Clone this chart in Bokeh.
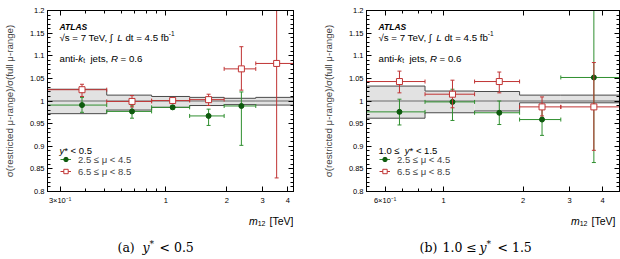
import math
from bokeh.plotting import figure
from bokeh.layouts import row, column
from bokeh.models import (Range1d, FixedTicker, CustomJSTickFormatter, LogAxis, LinearAxis,
                          Label, Legend, LegendItem)
from bokeh.embed import file_html
from bokeh.resources import INLINE

# ---------------- panel (a): y* < 0.5 ----------------
a_edges = [0.26, 0.51, 0.85, 1.31, 1.94, 2.78, 4.27]
a_centers = [0.385, 0.68, 1.08, 1.625, 2.36, 3.525]
a_band_hi = [1.026, 1.013, 1.010, 1.008, 1.006, 1.008]
a_band_lo = [0.972, 0.980, 0.986, 0.990, 0.992, 0.991]
a_low_mu = [0.991, 0.977, 0.986, 0.967, 0.989]
a_low_mu_dn = [0.975, 0.962, 0.982, 0.946, 0.902]
a_low_mu_up = [1.008, 0.991, 0.990, 0.982, 1.020]
a_high_mu = [1.025, 0.999, 1.001, 1.003, 1.071, 1.083]
a_high_mu_dn = [1.010, 0.987, 0.996, 0.990, 1.024, 0.830]
a_high_mu_up = [1.037, 1.012, 1.005, 1.015, 1.120, 1.336]
a_xticks = [0.3, 1, 2, 3, 4]
a_xtick_labels = ["3×10⁻¹", "1", "2", "3", "4"]
a_xminor = [0.4, 0.5, 0.6, 0.7, 0.8, 0.9]

# ---------------- panel (b): 1.0 <= y* < 1.5 ----------------
b_edges = [0.51, 0.85, 1.31, 1.94, 2.78, 4.64]
b_centers = [0.68, 1.08, 1.625, 2.36, 3.71]
b_band_hi = [1.033, 1.022, 1.021, 1.013, 1.013]
b_band_lo = [0.962, 0.974, 0.978, 0.996, 0.996]
b_low_mu = [0.976, 0.998, 0.974, 0.959, 1.052]
b_low_mu_dn = [0.947, 0.957, 0.948, 0.924, 0.864]
b_low_mu_up = [1.004, 1.026, 1.000, 0.988, 1.240]
b_high_mu = [1.043, 1.015, 1.043, 0.987, 0.987]
b_high_mu_dn = [1.018, 0.985, 1.018, 0.967, 0.891]
b_high_mu_up = [1.066, 1.046, 1.064, 1.009, 1.085]
b_xticks = [0.6, 1, 2, 3, 4]
b_xtick_labels = ["6×10⁻¹", "1", "2", "3", "4"]
b_xminor = [0.7, 0.8, 0.9]

y_ticks = [0.8, 0.85, 0.9, 0.95, 1.0, 1.05, 1.1, 1.15, 1.2]
y_tick_labels = ["0.8", "0.85", "0.9", "0.95", "1", "1.05", "1.1", "1.15", "1.2"]
y_minor = [round(0.8 + 0.01 * i, 2) for i in range(41)]
reference_ratio = 1.0

low_mu_label = "2.5 ≤ μ < 4.5"
high_mu_label = "6.5 ≤ μ < 8.5"
y_label = "σ(restricted μ-range)/σ(full μ-range)"

SANS = "Liberation Sans"
SERIF = "DejaVu Serif"
GREEN_LINE = "#2f8f2f"
GREEN_MARK = "#0e5a0e"
RED = "#c03434"
BAND_FILL = "#e2e2e2"
BAND_LINE = "#4a4a4a"

# approximate Helvetica advance widths (per em) used to chain text runs
HELV = {" ": .278, "(": .333, ")": .333, "*": .389, ",": .278, "-": .333, ".": .278,
        "/": .278, "<": .584, "=": .584, "A": .667, "L": .556, "R": .722, "S": .667,
        "T": .611, "V": .667, "[": .278, "]": .278, "a": .556, "b": .556, "d": .556,
        "e": .556, "f": .278, "i": .222, "j": .222, "k": .5, "m": .833, "n": .556,
        "s": .5, "t": .278, "y": .5, "√": .549, "∫": .274, "≤": .549, "μ": .576}
HELV_BOLD = {"A": .722, "T": .611, "L": .611, "S": .667}


def run_width(text, size, bold=False):
    table = HELV_BOLD if bold else HELV
    return sum(table.get(ch, HELV.get(ch, .556)) for ch in text) * size


def text_label(p, x, y, text, size, style, align, font=SANS):
    p.add_layout(Label(x=x, y=y, x_units="screen", y_units="screen", text=text,
                       text_font=font, text_font_size=f"{size}px", text_font_style=style,
                       text_color="black", text_baseline="alphabetic", text_align=align))


def add_runs(p, x, y, runs, align="left"):
    """Place a sequence of (text, size, style, dy) runs on one baseline."""
    if align == "right":
        # lay out from the right edge leftwards so the last run ends exactly at x
        for text, size, style, dy in reversed(runs):
            trail = len(text) - len(text.rstrip(" "))
            text_label(p, x - trail * HELV[" "] * size, y + dy, text.strip(" "),
                       size, style, "right")
            x -= run_width(text, size, "bold" in style)
        return
    for text, size, style, dy in runs:
        lead = len(text) - len(text.lstrip(" "))
        text_label(p, x + lead * HELV[" "] * size, y + dy, text.strip(" "),
                   size, style, "left")
        x += run_width(text, size, "bold" in style)


def tick_formatter(values, labels):
    return CustomJSTickFormatter(args=dict(vals=values, labs=labels), code="""
        for (let i = 0; i < vals.length; i++) {
            if (Math.abs(tick - vals[i]) < 1e-6) { return labs[i]; }
        }
        return "";
    """)


def style_axis(ax, ticker, formatter, label_size="7.5px", standoff=3):
    ax.ticker = ticker
    ax.formatter = formatter
    ax.major_tick_in = 5
    ax.major_tick_out = 0
    ax.minor_tick_in = 3
    ax.minor_tick_out = 0
    ax.axis_line_color = "black"
    ax.major_tick_line_color = "black"
    ax.minor_tick_line_color = "black"
    ax.major_label_text_font = SANS
    ax.major_label_text_font_size = label_size
    ax.major_label_text_color = "black"
    ax.major_label_standoff = standoff


def error_points(p, edges, centers, vals, dn, up, color, marker, size, fill):
    n = len(vals)
    xl, xr, xc = edges[:n], edges[1:n + 1], centers[:n]
    hbar = p.segment(x0=xl, y0=vals, x1=xr, y1=vals, line_color=color, line_width=1)
    p.segment(x0=xc, y0=dn, x1=xc, y1=up, line_color=color, line_width=1)
    p.scatter(x=xc + xc, y=dn + up, marker="dash", size=4, line_color=color, line_width=1)
    p.scatter(x=xl + xr, y=vals + vals, marker="dash", angle=math.pi / 2, size=4,
              line_color=color, line_width=1)
    pts = p.scatter(x=xc, y=vals, marker=marker, size=size, fill_color=fill,
                    line_color=color if fill == "white" else fill, line_width=1)
    return hbar, pts


def make_panel(edges, centers, band_lo, band_hi, low, low_dn, low_up, high, high_dn, high_up,
               xticks, xlabels, xminor, header_runs, caption_parts, border_left, border_right):
    p = figure(width=310, height=208, x_axis_type="log",
               x_range=Range1d(edges[0], edges[-1]), y_range=Range1d(y_ticks[0], y_ticks[-1]),
               output_backend="svg", toolbar_location=None,
               min_border_left=border_left, min_border_right=border_right,
               min_border_top=10, min_border_bottom=17)
    p.grid.visible = False
    p.outline_line_color = "black"
    p.outline_line_width = 1
    p.background_fill_color = "white"
    p.border_fill_color = "white"

    # systematic band around unity
    p.quad(left=edges[:-1], right=edges[1:], bottom=band_lo, top=band_hi,
           fill_color=BAND_FILL, line_color=None)
    p.step(x=edges, y=band_hi + band_hi[-1:], mode="after", line_color=BAND_LINE, line_width=1)
    p.step(x=edges, y=band_lo + band_lo[-1:], mode="after", line_color=BAND_LINE, line_width=1)
    p.line(x=[edges[0], edges[-1]], y=[reference_ratio, reference_ratio],
           line_color="#6a6a6a", line_width=1)

    g_h, g_pts = error_points(p, edges, centers, low, low_dn, low_up,
                              GREEN_LINE, "circle", 5, GREEN_MARK)
    r_h, r_pts = error_points(p, edges, centers, high, high_dn, high_up,
                              RED, "square", 6, "white")

    # axes
    xa = p.below[0]
    style_axis(xa, FixedTicker(ticks=xticks, minor_ticks=xminor),
               tick_formatter(xticks, xlabels), standoff=4)
    ya = p.left[0]
    style_axis(ya, FixedTicker(ticks=y_ticks, minor_ticks=y_minor),
               tick_formatter(y_ticks, y_tick_labels))
    ya.axis_label = y_label
    ya.axis_label_text_font = SANS
    ya.axis_label_text_font_size = "9.7px"
    ya.axis_label_text_font_style = "normal"
    ya.axis_label_standoff = 12

    blank = CustomJSTickFormatter(code="return '';")
    top = LogAxis()
    style_axis(top, FixedTicker(ticks=xticks, minor_ticks=xminor), blank, "0px", 0)
    p.add_layout(top, "above")
    right = LinearAxis()
    style_axis(right, FixedTicker(ticks=y_ticks, minor_ticks=y_minor), blank, "0px", 0)
    p.add_layout(right, "right")

    # experiment / selection text
    add_runs(p, 12, 165, [("ATLAS", 8.5, "bold italic", 0)])
    add_runs(p, 12, 154, [("√s = 7 TeV,  ∫", 9.7, "normal", 0), ("L", 9.7, "italic", 0),
                          (" dt = 4.5 fb", 9.7, "normal", 0), ("-1", 6.5, "normal", 4)])
    add_runs(p, 12, 133, [("anti-", 9.7, "normal", 0), ("k", 9.7, "italic", 0),
                          ("t", 6.5, "normal", -2), ("  jets, ", 9.7, "normal", 0),
                          ("R", 9.7, "italic", 0), (" = 0.6", 9.7, "normal", 0)])
    add_runs(p, 12, 41, header_runs)

    legend = Legend(items=[LegendItem(label=low_mu_label, renderers=[g_h, g_pts]),
                           LegendItem(label=high_mu_label, renderers=[r_h, r_pts])],
                    location=(13, 14), glyph_width=11, glyph_height=12, label_height=12,
                    label_standoff=7, spacing=0, padding=0, margin=0,
                    border_line_color=None, background_fill_alpha=0,
                    label_text_font=SANS, label_text_font_size="9.5px",
                    label_text_baseline="middle")
    p.add_layout(legend, "center")

    # strip under the plot (its frame lines up with the plot frame above):
    # x-axis title and sub-figure caption
    s = figure(width=310, height=51, x_range=Range1d(0, 1), y_range=Range1d(0, 1),
               output_backend="svg", toolbar_location=None,
               min_border_left=border_left, min_border_right=border_right,
               min_border_top=0, min_border_bottom=0,
               x_axis_location=None, y_axis_location=None)
    s.grid.visible = False
    s.outline_line_color = None
    s.background_fill_color = "white"
    s.border_fill_color = "white"
    frame_w = p.width - border_left - border_right
    add_runs(s, frame_w - 4, 38.5, [("m", 10.5, "italic", 0), ("12", 7, "normal", -2.5),
                                    (" [TeV]", 10.5, "normal", 0)], align="right")
    for text, x, size, style, dy in caption_parts:
        text_label(s, x - border_left, 12 + dy, text, size, style, "left", font=SERIF)
    return column(p, s, spacing=0)


pa = make_panel(a_edges, a_centers, a_band_lo, a_band_hi,
                a_low_mu, a_low_mu_dn, a_low_mu_up, a_high_mu, a_high_mu_dn, a_high_mu_up,
                a_xticks, a_xtick_labels, a_xminor,
                [("y", 9.5, "italic", 0), ("* < 0.5", 9.5, "normal", 0)],
                [("(a)", 113, 12.5, "normal", 0), ("y", 138, 12.5, "italic", 0),
                 ("*", 145, 9, "normal", 4), ("< 0.5", 155, 12.5, "normal", 0)],
                43, 17)
pb = make_panel(b_edges, b_centers, b_band_lo, b_band_hi,
                b_low_mu, b_low_mu_dn, b_low_mu_up, b_high_mu, b_high_mu_dn, b_high_mu_up,
                b_xticks, b_xtick_labels, b_xminor,
                [("1.0 ≤  ", 9.5, "normal", 0), ("y", 9.5, "italic", 0),
                 ("* < 1.5", 9.5, "normal", 0)],
                [("(b)", 109, 12.5, "normal", 0), ("1.0 ≤", 132, 12.5, "normal", 0),
                 ("y", 169, 12.5, "italic", 0), ("*", 176, 9, "normal", 4),
                 ("< 1.5", 187, 12.5, "normal", 0)],
                56, 1)

layout = row(pa, pb, spacing=0)
open("out.html", "w").write(file_html(layout, INLINE))
